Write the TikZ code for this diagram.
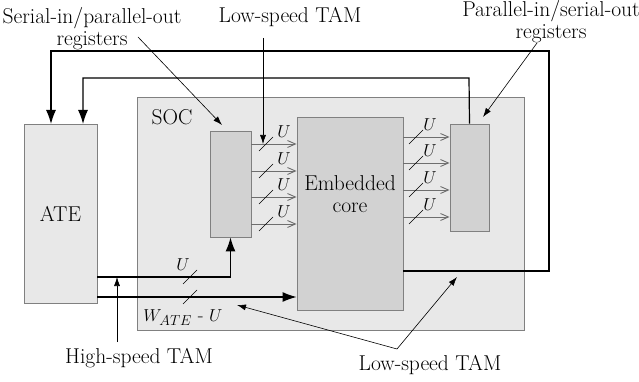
\documentclass[tikz,border=0pt]{standalone}
\usepackage{tikz}
\usetikzlibrary{arrows.meta}

\definecolor{socgray}{HTML}{E8E8E8}
\definecolor{blockgray}{HTML}{D2D2D2}
\definecolor{edgegray}{HTML}{808080}
\definecolor{busgray}{HTML}{6E6E6E}

\tikzset{
  box/.style={draw=edgegray, line width=0.9pt, inner sep=0pt},
  bus/.style={busgray, line width=0.9pt, -{Straight Barb[length=8pt,width=7pt]}},
  loop/.style={black, line width=1.2pt, -{Latex[length=14pt,width=10pt]}},
  pointer/.style={black, line width=0.6pt, -{Latex[length=9pt,width=6pt]}},
  buslbl/.style={font=\fontsize{16}{17}\selectfont, inner sep=0pt},
  biglbl/.style={font=\fontsize{21.5}{22}\selectfont, align=center, inner sep=0pt}
}

% bus width mark: short slash across a bus line
\newcommand{\busmark}[2]{\draw[black, line width=0.6pt] (#1-7,#2+7) -- (#1+7,#2-7);}

\begin{document}
\begin{tikzpicture}[x=1pt, y=-1pt]

    \useasboundingbox (0,0) rectangle (639,382);

    % Blocks
    \node[box, fill=socgray, minimum width=387pt, minimum height=233pt] (soc) at (330.5,213.5) {};
    \node[box, fill=socgray, minimum width=73pt, minimum height=179pt] (ate) at (60.5,213.5) {};
    \node[biglbl] (atetxt) at (ate.center) {ATE};
    \node[biglbl] (soctxt) at (172,117) {SOC};
    \node[box, fill=blockgray, minimum width=41pt, minimum height=106pt] (sipo) at (230.5,184) {};
    \node[box, fill=blockgray, minimum width=106pt, minimum height=193pt] (core) at (350,213.5) {};
    \node[biglbl] (coretxt) at (350,194) {Embedded\\core};
    \node[box, fill=blockgray, minimum width=39pt, minimum height=107pt] (piso) at (469.5,177.5) {};

    % Low-speed buses, U bits wide
    \foreach \y in {144,171,197,224} {
        \draw[bus] (sipo.east |- 0,\y) -- (core.west |- 0,\y);
        \busmark{266}{\y}
        \node[buslbl] at (284,\y-12) {$U$};
    }
    \foreach \y in {137,163,190,217} {
        \draw[bus] (core.east |- 0,\y) -- (piso.west |- 0,\y);
        \busmark{416}{\y}
        \node[buslbl] at (430,\y-12) {$U$};
    }

    % ATE to SOC
    \draw[loop] (ate.east |- 0,277) -| (sipo.south);
    \draw[loop] (ate.east |- 0,297) -- (core.west |- 0,297);
    \busmark{190}{277}
    \busmark{190}{297}
    \node[buslbl, font=\fontsize{19}{20}\selectfont] (ulbl) at (183,265) {$U$};
    \node[inner sep=0pt, font=\fontsize{19}{20}\selectfont] (wlbl) at (183,318) {$W_{ATE}$ - $U$};

    % Responses back to the ATE
    \draw[loop] (core.east |- 0,271) -- (549,271) -- (549,51) -| (51,124);
    \draw[loop] (piso.north) -- (469,78) -| (83,124);

    % Labels
    \node[biglbl] (lblsipo) at (92,29) {Serial-in/parallel-out\\registers};
    \node[biglbl] (lbllowtop) at (290,17) {Low-speed TAM};
    \node[biglbl] (lblpiso) at (551,22) {Parallel-in/serial-out\\registers};
    \node[biglbl] (lblhigh) at (139,358) {High-speed TAM};
    \node[biglbl] (lbllowbot) at (430,365) {Low-speed TAM};

    \coordinate (fork) at (397,349);
    \draw[pointer] (138,37) -- (222,125);
    \draw[pointer] (263,38) -- (263,144);
    \draw[pointer] (537,43) -- (483,117);
    \draw[pointer] (117,342) -- (117,277);
    \draw[pointer] (fork) -- (457,277);
    \draw[pointer] (fork) -- (237,305);

\end{tikzpicture}
\end{document}
